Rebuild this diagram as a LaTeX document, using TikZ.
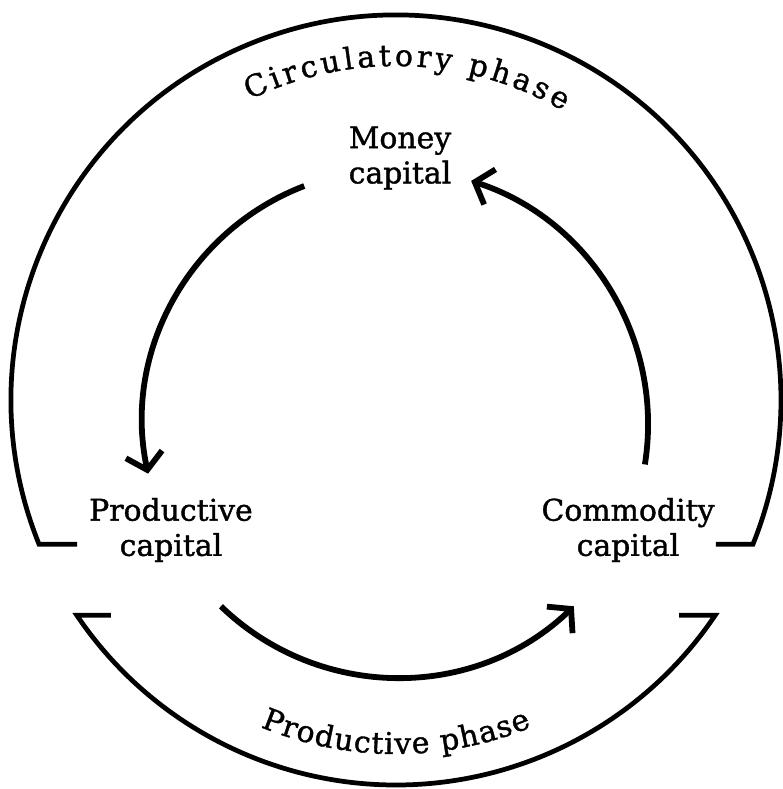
\documentclass[tikz,border=0pt]{standalone}
\usepackage{fontspec}
\setmainfont{DejaVu Serif}[FakeBold=1.2]
\usetikzlibrary{arrows.meta,calc,decorations.text}
\newcommand\capfont{\fontsize{17}{20}\selectfont}

\begin{document}
\begin{tikzpicture}[
    x=0.02cm, y=0.02cm,
    formtext/.style={align=center, font=\capfont, inner sep=0pt},
    phasearc/.style={line width=2.7pt, line join=miter},
    flowarc/.style={line width=3.3pt, -{Straight Barb[length=9pt,width=21pt,line width=3.3pt]}},
    phasetext/.style={decorate, decoration={text along path, text align=fit to path, text={|\capfont|#1}}}
]
\useasboundingbox (-396,-389) rectangle (387,400);

% Centres of the two circles
\coordinate (outer) at (0,0);
\coordinate (inner) at (0,-25);

% Forms of capital
\node[formtext] (money) at (4,242) {Money\\capital};
\node[formtext] (productive) at (-225,-130) {Productive\\capital};
\node[formtext] (commodity) at (232,-130) {Commodity\\capital};

% Circuit of capital
\draw[flowarc] ($(inner)+(111:256)$) arc[start angle=111, end angle=192, radius=252];
\draw[flowarc] ($(inner)+(226:252)$) arc[start angle=226, end angle=314, radius=254];
\draw[flowarc] ($(inner)+(-9:252)$) arc[start angle=-9, end angle=72, radius=256];

% Circulatory phase (upper bracket)
\draw[phasearc] ($(outer)+(202:385)+(38,0)$) -- ++(-38,0)
    arc[start angle=202, end angle=-22, radius=385] -- ++(-37,0);
\path[phasetext={Circulatory phase}] ($(outer)+(116:334)$)
    arc[start angle=116, end angle=60, radius=334];

% Productive phase (lower bracket)
\draw[phasearc] ($(outer)+(214:385)+(34,0)$) -- ++(-34,0)
    arc[start angle=214, end angle=326, radius=385] -- ++(-36,0);
\path[phasetext={Productive phase}] ($(outer)+(247.5:354)$)
    arc[start angle=247.5, end angle=292.5, radius=354];

\end{tikzpicture}
\end{document}
